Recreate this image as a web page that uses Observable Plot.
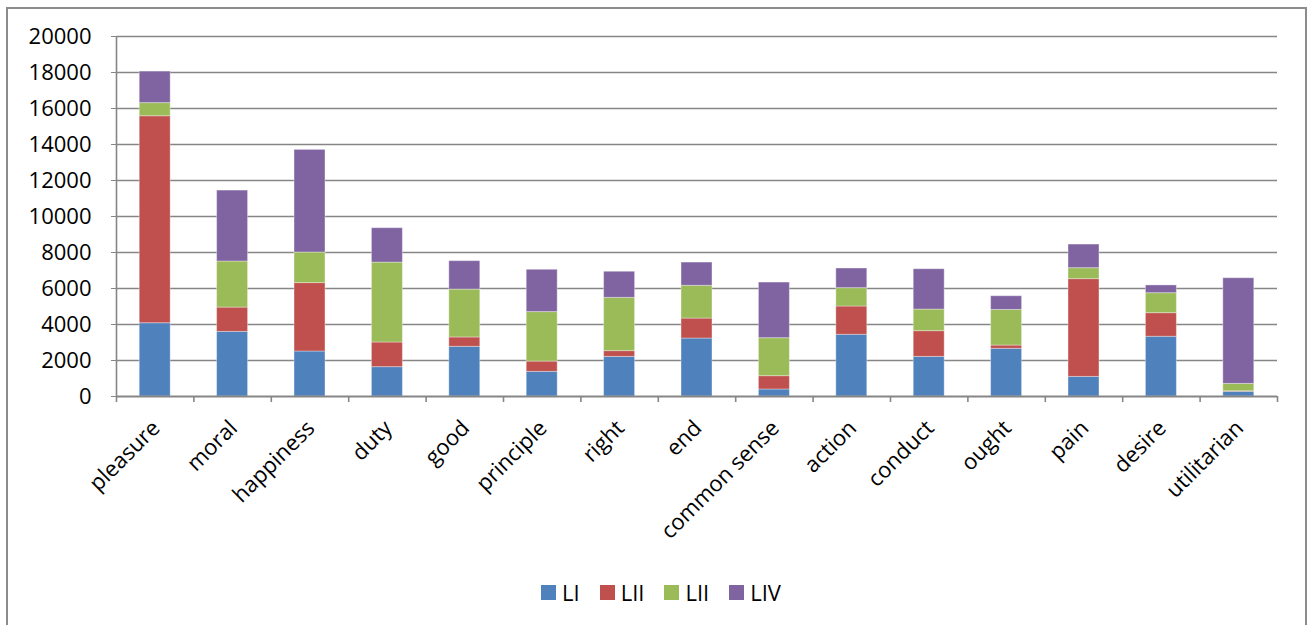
<!DOCTYPE html>
<html>
<head>
<meta charset="utf-8">
<script src="https://cdn.jsdelivr.net/npm/d3@7"></script>
<script src="https://cdn.jsdelivr.net/npm/@observablehq/plot@0.6"></script>
<style>
  html, body { margin: 0; padding: 0; background: #fff; overflow: hidden; }
  body { width: 1314px; height: 625px; position: relative; font-family: "Open Sans", sans-serif; color: #000; }
  #frame { position: absolute; left: 6px; top: 7px; width: 1301px; height: 700px; border: 2px solid #8c8c8c; box-sizing: border-box; pointer-events: none; }
  #chart svg { display: block; }
  #legend { display: flex; justify-content: center; align-items: center; padding-top: 21px; padding-left: 8px; font-size: 22px; line-height: 22px; }
  #legend .item { display: flex; align-items: center; margin: 0 10px; }
  #legend .sw { width: 15px; height: 15px; margin-right: 6px; }
</style>
</head>
<body>
<div id="chart"></div>
<div id="legend"></div>
<div id="frame"></div>
<script>
const words = ["pleasure","moral","happiness","duty","good","principle","right","end","common sense","action","conduct","ought","pain","desire","utilitarian"];
const seriesKeys = ["LI","LII","LIII","LIV"];
const seriesLabels = ["LI","LII","LII","LIV"];
const seriesColors = ["#4f81bd","#c0504d","#9bbb59","#8064a2"];
const LI   = [4070,3590,2500,1630,2760,1370,2200,3220,390,3430,2200,2650,1090,3320,260];
const LII  = [11500,1350,3800,1370,520,570,320,1110,740,1570,1430,180,5430,1310,30];
const LIII = [730,2560,1700,4440,2660,2750,2960,1820,2110,1020,1200,1980,610,1110,410];
const LIV  = [1750,3940,5700,1910,1580,2350,1450,1290,3090,1090,2240,760,1310,430,5870];
const yTicks = [0,2000,4000,6000,8000,10000,12000,14000,16000,18000,20000];

const seriesValues = [LI, LII, LIII, LIV];
const data = [];
words.forEach((w, i) => {
  seriesKeys.forEach((s, j) => data.push({word: w, series: s, value: seriesValues[j][i]}));
});

const W = 1314, H = 560, mL = 116, mR = 37, mT = 36, mB = 164;
const step = (W - mL - mR) / words.length;

const chart = Plot.plot({
  width: W, height: H,
  marginLeft: mL, marginRight: mR, marginTop: mT, marginBottom: mB,
  style: {fontFamily: "Open Sans, sans-serif", color: "#000", background: "#fff"},
  x: {domain: words, paddingInner: 0.6, paddingOuter: 0.3, round: false, axis: null, label: null},
  y: {domain: [0, 20000], axis: null, label: null},
  color: {domain: seriesKeys, range: seriesColors},
  marks: [
    Plot.ruleY(yTicks.filter(d => d > 0), {y: d => d, stroke: "#868686", strokeWidth: 1.6}),
    Plot.barY(data, {x: "word", y: "value", fill: "series", stroke: "#ffffff", strokeOpacity: 0.35, strokeWidth: 1}),
    Plot.ruleY([0], {stroke: "#868686", strokeWidth: 1.8}),
    Plot.ruleX([words[0]], {x: d => d, y1: 20000, y2: 0, dx: -step / 2, insetBottom: -6, stroke: "#868686", strokeWidth: 1.6}),
    Plot.ruleX(words, {x: d => d, y1: 0, y2: 0, dx: step / 2, insetBottom: -6, stroke: "#868686", strokeWidth: 1.6}),
    Plot.axisY({ticks: yTicks, tickSize: 5, tickPadding: 20, stroke: "#868686", fontSize: 22, label: null, tickFormat: d => String(d)}),
    Plot.text(words, {x: d => d, y: 0, text: d => d, rotate: -45, textAnchor: "end", lineAnchor: "middle", dx: 1, dy: 28, fontSize: 22, fill: "#000"})
  ]
});
document.getElementById("chart").appendChild(chart);

const legend = document.getElementById("legend");
seriesLabels.forEach((lab, j) => {
  const item = document.createElement("div");
  item.className = "item";
  const sw = document.createElement("div");
  sw.className = "sw";
  sw.style.background = seriesColors[j];
  const t = document.createElement("span");
  t.textContent = lab;
  item.appendChild(sw);
  item.appendChild(t);
  legend.appendChild(item);
});
</script>
</body>
</html>
